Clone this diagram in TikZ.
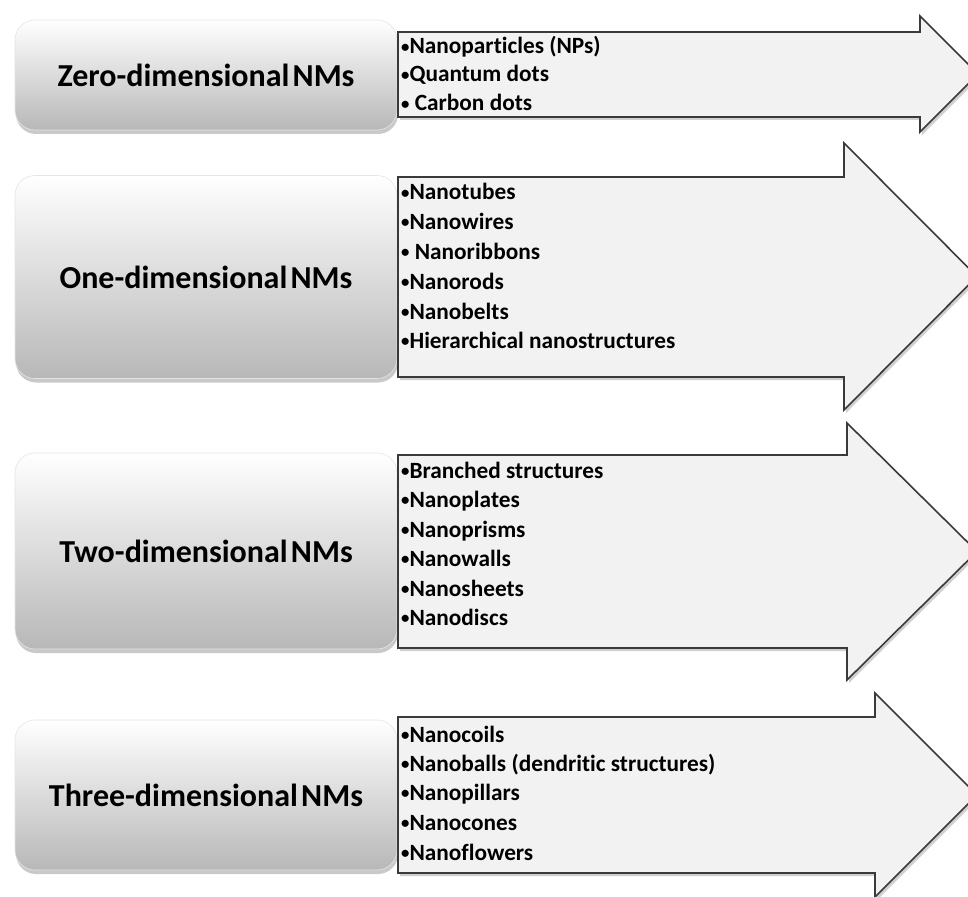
\documentclass[tikz,border=0pt]{standalone}
\usepackage{fontspec}
\setmainfont{Carlito}[Ligatures=NoCommon]
\usetikzlibrary{shadows}
\definecolor{arrowfill}{HTML}{F2F2F2}
\definecolor{arrowline}{HTML}{3A3A3A}
\newcommand{\bul}{\raisebox{1.2pt}{\scalebox{0.72}{•}}}
\newcommand{\nsp}{\hspace{0.1em}}
\tikzset{
  catbox/.style={rounded corners=20pt, top color=white, bottom color=black!28,
    draw=white!90!black, line width=0.6pt,
    drop shadow={shadow xshift=1pt, shadow yshift=-4pt, opacity=0.35, fill=black!60},
    minimum width=382pt, inner sep=0pt, font=\fontsize{32}{36}\selectfont\bfseries},
  arrowshape/.style={fill=arrowfill, draw=arrowline, line width=1.6pt, line join=miter,
    drop shadow={shadow xshift=2pt, shadow yshift=-3pt, opacity=0.3, fill=black!60}},
  item/.style={anchor=base west, inner sep=0pt, font=\fontsize{23.3}{25}\selectfont\bfseries}
}
\begin{document}
\begin{tikzpicture}[x=1pt, y=-1pt]
\clip (0,0) rectangle (968,896);
\fill[white] (0,0) rectangle (968,896);

% Row 1
\node[catbox, minimum height=110pt] (zero) at (206,75) {Zero-dimensional\nsp NMs};
\draw[arrowshape] (398,32) -- (920,32) -- (920,16) -- (978,74) -- (920,132) -- (920,117) -- (398,117) -- cycle;
\node[item] (z1) at (401,54) {\bul Nanoparticles (NPs)};
\node[item] (z2) at (401,82) {\bul Quantum dots};
\node[item] (z3) at (401,111) {\bul{} Carbon dots};

% Row 2
\node[catbox, minimum height=203pt] (one) at (206,277) {One-dimensional\nsp NMs};
\draw[arrowshape] (398,177) -- (844,177) -- (844,143) -- (977,276.5) -- (844,410) -- (844,377) -- (398,377) -- cycle;
\node[item] (o1) at (401,200) {\bul Nanotubes};
\node[item] (o2) at (401,229) {\bul Nanowires};
\node[item] (o3) at (401,259) {\bul{} Nanoribbons};
\node[item] (o4) at (401,289) {\bul Nanorods};
\node[item] (o5) at (401,319) {\bul Nanobelts};
\node[item] (o6) at (401,348) {\bul Hierarchical nanostructures};

% Row 3
\node[catbox, minimum height=196pt] (two) at (206,551) {Two-dimensional\nsp NMs};
\draw[arrowshape] (398,455) -- (847,455) -- (847,423) -- (977,551.5) -- (847,680) -- (847,648) -- (398,648) -- cycle;
\node[item] (t1) at (401,478) {\bul Branched structures};
\node[item] (t2) at (401,507) {\bul Nanoplates};
\node[item] (t3) at (401,537) {\bul Nanoprisms};
\node[item] (t4) at (401,566) {\bul Nanowalls};
\node[item] (t5) at (401,596) {\bul Nanosheets};
\node[item] (t6) at (401,625) {\bul Nanodiscs};

% Row 4
\node[catbox, minimum height=150pt] (three) at (206,795) {Three-dimensional\nsp NMs};
\draw[arrowshape] (398,717) -- (875,717) -- (875,693) -- (977,795) -- (875,897) -- (875,873) -- (398,873) -- cycle;
\node[item] (h1) at (401,742) {\bul Nanocoils};
\node[item] (h2) at (401,771) {\bul Nanoballs (dendritic structures)};
\node[item] (h3) at (401,800) {\bul Nanopillars};
\node[item] (h4) at (401,830) {\bul Nanocones};
\node[item] (h5) at (401,860) {\bul Nanoflowers};
\end{tikzpicture}
\end{document}
